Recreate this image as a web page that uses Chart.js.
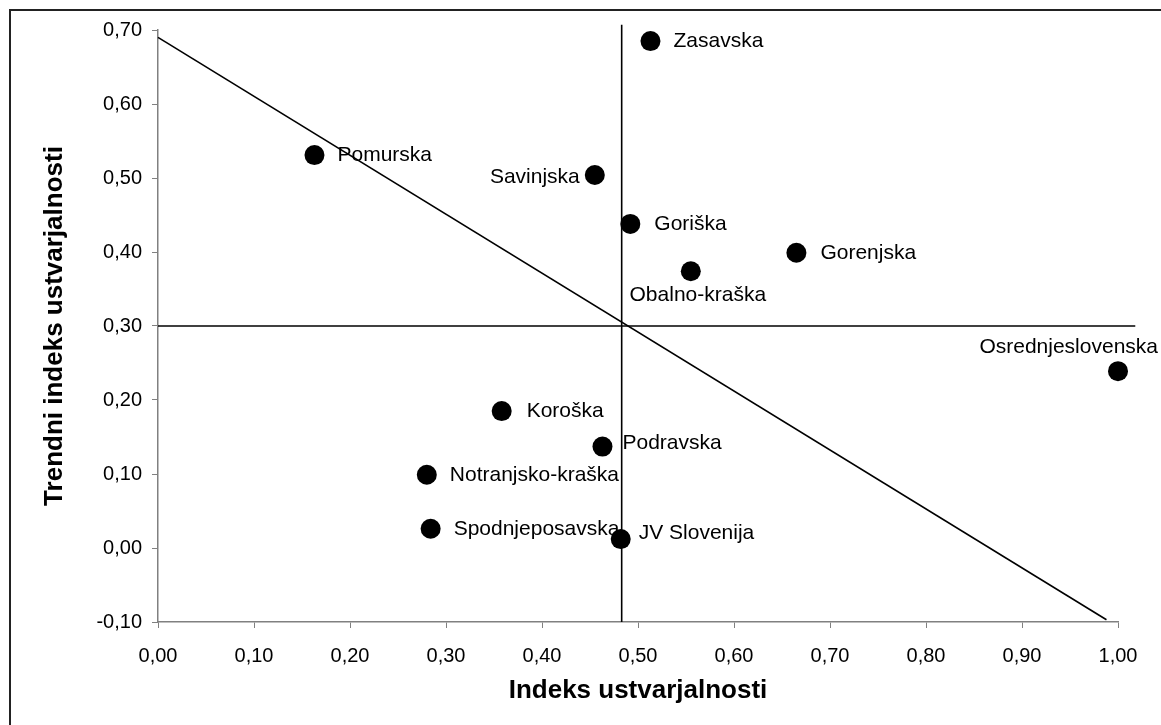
<!DOCTYPE html>
<html>
<head>
<meta charset="utf-8">
<script src="https://cdn.jsdelivr.net/npm/chart.js@4"></script>
<style>
  html, body { margin: 0; padding: 0; background: #fff; overflow: hidden; }
  #wrap { position: relative; width: 1161px; height: 725px; }
  #frame { position: absolute; left: 9px; top: 9px; width: 1300px; height: 900px;
           border: 2px solid #222; pointer-events: none; }
</style>
</head>
<body>
<div id="wrap">
  <canvas id="myChart" width="1161" height="725"></canvas>
  <div id="frame"></div>
</div>
<script>
// regije
const regions = ['Zasavska', 'Pomurska', 'Savinjska', 'Goriška', 'Gorenjska', 'Obalno-kraška',
    'Osrednjeslovenska', 'Koroška', 'Podravska', 'Notranjsko-kraška', 'Spodnjeposavska', 'JV Slovenija'];
const indeks = [0.513, 0.163, 0.455, 0.492, 0.665, 0.555, 1.000, 0.358, 0.463, 0.280, 0.284, 0.482];
const trendni = [0.685, 0.531, 0.504, 0.438, 0.399, 0.374, 0.239, 0.185, 0.137, 0.099, 0.026, 0.012];

// referencne crte
const vertLineX = [0.483, 0.483];
const vertLineY = [-0.10, 0.707];
const horLineX = [0.00, 1.018];
const horLineY = [0.30, 0.30];
const diagLineX = [0.00, 0.988];
const diagLineY = [0.69, -0.097];

const xTicks = [0, 0.1, 0.2, 0.3, 0.4, 0.5, 0.6, 0.7, 0.8, 0.9, 1.0];
const yTicks = [-0.1, 0, 0.1, 0.2, 0.3, 0.4, 0.5, 0.6, 0.7];

// kje stoji napis glede na tocko (dx, dy, poravnava)
const labelPlacement = [
    [23, 0, 'left'], [23, 0, 'left'], [-15, 2, 'right'], [24, 0, 'left'],
    [24, 0, 'left'], [7, 24, 'center'], [40, -24, 'right'], [25, 0, 'left'],
    [20, -3, 'left'], [23, 0, 'left'], [23, 0, 'left'], [18, -6, 'left']
];

function fmt(v) {
    if (Math.abs(v) < 1e-9) v = 0;
    return v.toFixed(2).replace('.', ',');
}
function toPoints(xs, ys) {
    return xs.map((x, i) => ({ x: x, y: ys[i] }));
}

const pointLabels = {
    id: 'pointLabels',
    afterDatasetsDraw(chart) {
        const ctx = chart.ctx;
        const meta = chart.getDatasetMeta(3);
        ctx.save();
        ctx.font = '21px "Liberation Sans", Arial, sans-serif';
        ctx.fillStyle = '#000';
        ctx.textBaseline = 'middle';
        meta.data.forEach((el, i) => {
            const p = labelPlacement[i];
            ctx.textAlign = p[2];
            ctx.fillText(regions[i], el.x + p[0], el.y + p[1]);
        });
        ctx.restore();
    }
};

document.addEventListener('DOMContentLoaded', function () {
    const ctx = document.getElementById('myChart').getContext('2d');
    const lineStyle = {
        showLine: true,
        borderColor: '#000',
        borderWidth: 1.6,
        pointRadius: 0,
        fill: false,
        clip: false
    };
    const chartData = {
        datasets: [
            Object.assign({ label: 'v', data: toPoints(vertLineX, vertLineY) }, lineStyle),
            Object.assign({ label: 'h', data: toPoints(horLineX, horLineY) }, lineStyle),
            Object.assign({ label: 'd', data: toPoints(diagLineX, diagLineY) }, lineStyle),
            {
                label: 'Regije',
                data: toPoints(indeks, trendni),
                backgroundColor: '#000',
                borderWidth: 0,
                pointRadius: 10,
                clip: false
            }
        ]
    };
    const tickFont = { family: '"Liberation Sans", Arial, sans-serif', size: 20 };
    const titleFont = { family: '"Liberation Sans", Arial, sans-serif', size: 26, weight: 'bold' };
    const config = {
        type: 'scatter',
        data: chartData,
        options: {
            responsive: false,
            animation: false,
            layout: { padding: { left: 0, top: 30, right: 43, bottom: 0 } },
            plugins: {
                legend: { display: false },
                tooltip: { enabled: false }
            },
            scales: {
                x: {
                    type: 'linear',
                    min: 0,
                    max: 1,
                    afterFit: function (s) { s.height = 103; },
                    afterBuildTicks: function (s) { s.ticks = xTicks.map(v => ({ value: v })); },
                    grid: { drawOnChartArea: false, drawTicks: true, tickLength: 6, color: '#808080' },
                    border: { display: true, color: '#808080', width: 1.5 },
                    ticks: { color: '#000', font: tickFont, padding: 16, maxRotation: 0, callback: fmt },
                    title: { display: true, text: 'Indeks ustvarjalnosti', color: '#000', font: titleFont,
                             padding: { top: 0, bottom: 19 } }
                },
                y: {
                    type: 'linear',
                    min: -0.1,
                    max: 0.7,
                    afterFit: function (s) { s.width = 158; },
                    afterBuildTicks: function (s) { s.ticks = yTicks.map(v => ({ value: v })); },
                    grid: { drawOnChartArea: false, drawTicks: true, tickLength: 6, color: '#808080' },
                    border: { display: true, color: '#808080', width: 1.5 },
                    ticks: { color: '#000', font: tickFont, padding: 10, callback: fmt },
                    title: { display: true, text: 'Trendni indeks ustvarjalnosti', color: '#000', font: titleFont,
                             padding: { top: 39, bottom: 0 } }
                }
            }
        },
        plugins: [pointLabels]
    };
    const myChart = new Chart(ctx, config);
});
</script>
</body>
</html>
